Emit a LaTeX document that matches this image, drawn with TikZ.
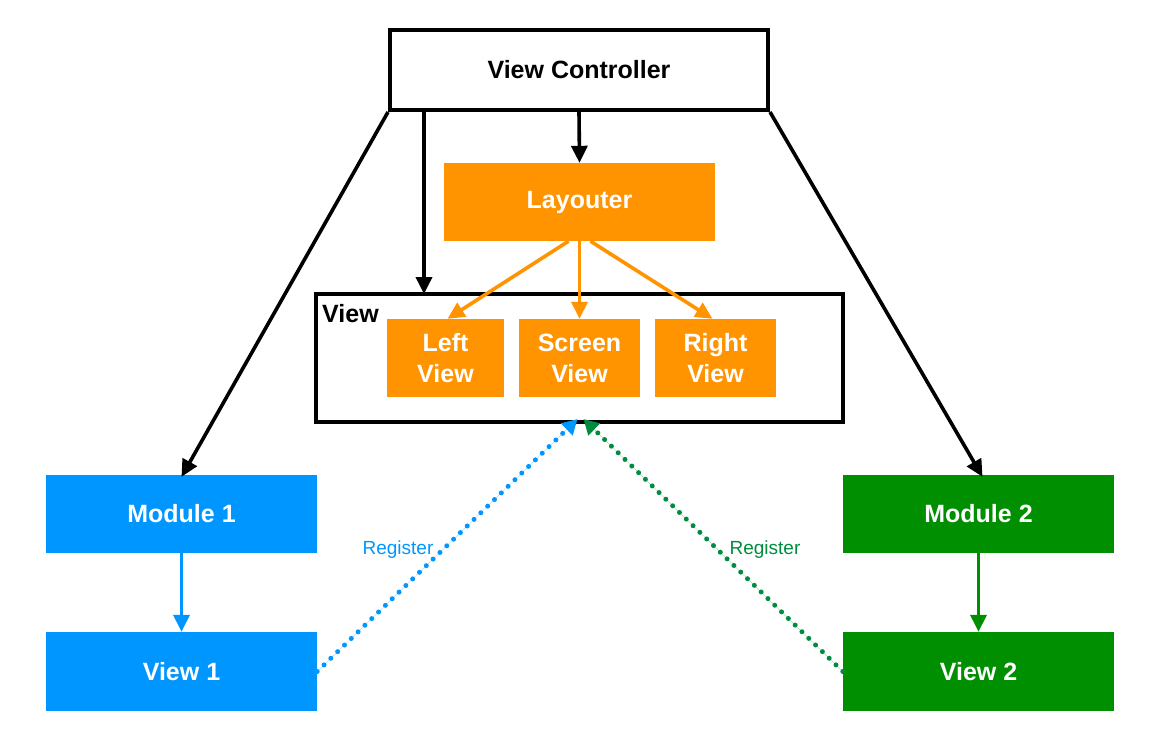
\documentclass[tikz,border=0pt]{standalone}
\usepackage{fontspec}
\setmainfont{Liberation Sans}
\usetikzlibrary{arrows.meta,calc}
\definecolor{korange}{HTML}{FF9300}
\definecolor{kblue}{HTML}{0096FF}
\definecolor{kgreen}{HTML}{008F00}
\definecolor{kgreenreg}{HTML}{008C3E}
\tikzset{
  box/.style={draw=none,inner sep=0pt,align=center,text=white,font=\fontsize{25}{31}\selectfont\bfseries},
  obox/.style={box,fill=korange},
  bbox/.style={box,fill=kblue},
  gbox/.style={box,fill=kgreen},
  arr/.style={line width=3.6pt,-{Triangle[length=17pt,width=16pt]}},
  darr/.style={line width=5pt,line cap=round,dash pattern=on 0pt off 9.5pt,-{Triangle[length=15pt,width=16pt]}},
  reg/.style={font=\fontsize{19}{22}\selectfont}
}
\begin{document}
\begin{tikzpicture}[x=1pt,y=-1pt]
\useasboundingbox (0,0) rectangle (1155,744);
% boxes
\node[draw,line width=4pt,fill=white,minimum width=378pt,minimum height=80pt,font=\fontsize{25}{31}\selectfont\bfseries] (vc) at (579,70) {View Controller};
\node[obox,minimum width=271pt,minimum height=78pt] (lay) at (579.5,202) {\raisebox{-3pt}{Layouter}};
\node[draw,line width=4pt,minimum width=527pt,minimum height=128pt] (viewbox) at (579.5,358) {};
\node[anchor=north west,inner sep=0pt,font=\fontsize{25}{31}\selectfont\bfseries] (viewlbl) at (322,304) {View};
\node[obox,minimum width=117pt,minimum height=78pt] (left) at (445.5,358) {Left\\View};
\node[obox,minimum width=121pt,minimum height=78pt] (screen) at (579.5,358) {Screen\\View};
\node[obox,minimum width=121pt,minimum height=78pt] (right) at (715.5,358) {Right\\View};
\node[bbox,minimum width=271pt,minimum height=78pt] (m1) at (181.5,514) {Module 1};
\node[bbox,minimum width=271pt,minimum height=79pt] (v1) at (181.5,671.5) {View 1};
\node[gbox,minimum width=271pt,minimum height=78pt] (m2) at (978.5,514) {Module 2};
\node[gbox,minimum width=271pt,minimum height=79pt] (v2) at (978.5,671.5) {View 2};
% black arrows
\draw[arr] (vc.south west) -- ([yshift=-2pt]m1.north);
\draw[arr] (vc.south east) -- ([xshift=4pt,yshift=-2pt]m2.north);
\draw[arr] ([xshift=110pt]viewbox.north west |- vc.south) -- ([xshift=110pt,yshift=-2pt]viewbox.north west);
\draw[arr] (vc.south) -- (lay.north);
% orange arrows
\draw[arr,draw=korange,fill=korange] ([xshift=-11pt]lay.south) -- ([xshift=2pt]left.north);
\draw[arr,draw=korange,fill=korange] (lay.south) -- (screen.north);
\draw[arr,draw=korange,fill=korange] ([xshift=11pt]lay.south) -- ([xshift=-3pt]right.north);
% module to view
\draw[arr,draw=kblue,fill=kblue] (m1.south) -- (v1.north);
\draw[arr,draw=kgreen,fill=kgreen] (m2.south) -- (v2.north);
% register
\draw[darr,draw=kblue,fill=kblue] (v1.east) -- ([xshift=-2pt,yshift=5pt]viewbox.south);
\draw[darr,draw=kgreenreg,fill=kgreenreg] (v2.west) -- ([xshift=4pt,yshift=5pt]viewbox.south);
\node[reg,text=kblue] (r1) at (398,550) {Register};
\node[reg,text=kgreenreg] (r2) at (765,550) {Register};
\end{tikzpicture}
\end{document}
